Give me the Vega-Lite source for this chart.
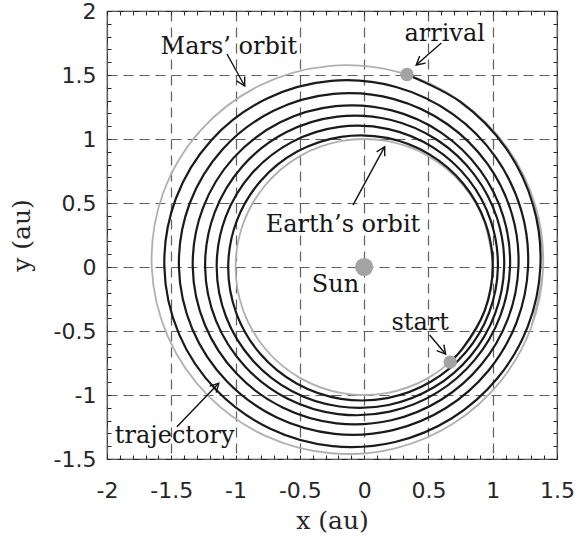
{
  "$schema": "https://vega.github.io/schema/vega-lite/v6.json",
  "width": 450,
  "height": 448,
  "autosize": {"type": "none"},
  "padding": {"left": 107, "top": 11, "right": 20, "bottom": 84},
  "background": "white",
  "config": {"view": {"stroke": "#262626", "strokeWidth": 1.2}},
  "datasets": {
    "traj": [
      {"i": 0, "x": 0.669, "y": -0.743},
      {"i": 1, "x": 0.7629, "y": -0.6402},
      {"i": 2, "x": 0.9374, "y": -0.3412},
      {"i": 3, "x": 1.0002, "y": 0},
      {"i": 4, "x": 0.9434, "y": 0.3434},
      {"i": 5, "x": 0.7732, "y": 0.6488},
      {"i": 6, "x": 0.5081, "y": 0.8801},
      {"i": 7, "x": 0.1778, "y": 1.0087},
      {"i": 8, "x": -0.1793, "y": 1.0172},
      {"i": 9, "x": -0.5207, "y": 0.9018},
      {"i": 10, "x": -0.8033, "y": 0.6741},
      {"i": 11, "x": -0.9907, "y": 0.3606},
      {"i": 12, "x": -1.0574, "y": 0},
      {"i": 13, "x": -0.9939, "y": -0.3617},
      {"i": 14, "x": -0.8084, "y": -0.6783},
      {"i": 15, "x": -0.5255, "y": -0.9101},
      {"i": 16, "x": -0.1815, "y": -1.0296},
      {"i": 17, "x": 0.1806, "y": -1.0242},
      {"i": 18, "x": 0.5179, "y": -0.897},
      {"i": 19, "x": 0.792, "y": -0.6646},
      {"i": 20, "x": 0.9728, "y": -0.354},
      {"i": 21, "x": 1.0402, "y": 0},
      {"i": 22, "x": 0.9858, "y": 0.3588},
      {"i": 23, "x": 0.8131, "y": 0.6823},
      {"i": 24, "x": 0.5385, "y": 0.9326},
      {"i": 25, "x": 0.1899, "y": 1.0774},
      {"i": 26, "x": -0.1929, "y": 1.0944},
      {"i": 27, "x": -0.5634, "y": 0.9758},
      {"i": 28, "x": -0.8723, "y": 0.732},
      {"i": 29, "x": -1.0768, "y": 0.3919},
      {"i": 30, "x": -1.1469, "y": 0},
      {"i": 31, "x": -1.0735, "y": -0.3907},
      {"i": 32, "x": -0.8678, "y": -0.7282},
      {"i": 33, "x": -0.5602, "y": -0.9703},
      {"i": 34, "x": -0.1922, "y": -1.0901},
      {"i": 35, "x": 0.19, "y": -1.078},
      {"i": 36, "x": 0.5427, "y": -0.9399},
      {"i": 37, "x": 0.8278, "y": -0.6947},
      {"i": 38, "x": 1.0164, "y": -0.3699},
      {"i": 39, "x": 1.089, "y": 0},
      {"i": 40, "x": 1.0354, "y": 0.3768},
      {"i": 41, "x": 0.858, "y": 0.7201},
      {"i": 42, "x": 0.5715, "y": 0.9899},
      {"i": 43, "x": 0.2028, "y": 1.1504},
      {"i": 44, "x": -0.2071, "y": 1.175},
      {"i": 45, "x": -0.6074, "y": 1.0522},
      {"i": 46, "x": -0.9428, "y": 0.7911},
      {"i": 47, "x": -1.1637, "y": 0.4235},
      {"i": 48, "x": -1.2368, "y": 0},
      {"i": 49, "x": -1.1526, "y": -0.4195},
      {"i": 50, "x": -0.9265, "y": -0.7774},
      {"i": 51, "x": -0.5943, "y": -1.0294},
      {"i": 52, "x": -0.2025, "y": -1.1492},
      {"i": 53, "x": 0.1992, "y": -1.1301},
      {"i": 54, "x": 0.5666, "y": -0.9813},
      {"i": 55, "x": 0.8619, "y": -0.7233},
      {"i": 56, "x": 1.0575, "y": -0.3849},
      {"i": 57, "x": 1.1346, "y": 0},
      {"i": 58, "x": 1.0827, "y": 0.394},
      {"i": 59, "x": 0.9018, "y": 0.7568},
      {"i": 60, "x": 0.6041, "y": 1.0463},
      {"i": 61, "x": 0.2156, "y": 1.2233},
      {"i": 62, "x": -0.2215, "y": 1.2565},
      {"i": 63, "x": -0.6527, "y": 1.1305},
      {"i": 64, "x": -1.016, "y": 0.8526},
      {"i": 65, "x": -1.2554, "y": 0.4569},
      {"i": 66, "x": -1.3331, "y": 0},
      {"i": 67, "x": -1.2392, "y": -0.451},
      {"i": 68, "x": -0.9925, "y": -0.8329},
      {"i": 69, "x": -0.634, "y": -1.0981},
      {"i": 70, "x": -0.2152, "y": -1.2212},
      {"i": 71, "x": 0.2111, "y": -1.1972},
      {"i": 72, "x": 0.5989, "y": -1.0372},
      {"i": 73, "x": 0.9103, "y": -0.7639},
      {"i": 74, "x": 1.1174, "y": -0.4067},
      {"i": 75, "x": 1.2002, "y": 0},
      {"i": 76, "x": 1.148, "y": 0.4178},
      {"i": 77, "x": 0.9593, "y": 0.805},
      {"i": 78, "x": 0.6451, "y": 1.1173},
      {"i": 79, "x": 0.2313, "y": 1.3118},
      {"i": 80, "x": -0.2384, "y": 1.3524},
      {"i": 81, "x": -0.7046, "y": 1.2203},
      {"i": 82, "x": -1.0988, "y": 0.9221},
      {"i": 83, "x": -1.3581, "y": 0.4942},
      {"i": 84, "x": -1.4405, "y": 0},
      {"i": 85, "x": -1.3358, "y": -0.4862},
      {"i": 86, "x": -1.0664, "y": -0.895},
      {"i": 87, "x": -0.6789, "y": -1.1759},
      {"i": 88, "x": -0.2298, "y": -1.3034},
      {"i": 89, "x": 0.2246, "y": -1.2743},
      {"i": 90, "x": 0.6363, "y": -1.102},
      {"i": 91, "x": 0.9661, "y": -0.8107},
      {"i": 92, "x": 1.1859, "y": -0.4316},
      {"i": 93, "x": 1.2749, "y": 0},
      {"i": 94, "x": 1.2215, "y": 0.4445},
      {"i": 95, "x": 1.0231, "y": 0.8585},
      {"i": 96, "x": 0.6898, "y": 1.1947},
      {"i": 97, "x": 0.248, "y": 1.4066},
      {"i": 98, "x": -0.2563, "y": 1.454},
      {"i": 99, "x": -0.759, "y": 1.3146},
      {"i": 100, "x": -1.1851, "y": 0.9946},
      {"i": 101, "x": -1.465, "y": 0.5332},
      {"i": 102, "x": -1.5539, "y": 0},
      {"i": 103, "x": -1.4398, "y": -0.524},
      {"i": 104, "x": -1.1479, "y": -0.9633},
      {"i": 105, "x": -0.7297, "y": -1.2639},
      {"i": 106, "x": -0.2467, "y": -1.3993},
      {"i": 107, "x": 0.241, "y": -1.3668},
      {"i": 108, "x": 0.6822, "y": -1.1817},
      {"i": 109, "x": 1.0363, "y": -0.8697},
      {"i": 110, "x": 1.2731, "y": -0.4633},
      {"i": 111, "x": 1.3706, "y": 0},
      {"i": 112, "x": 1.3156, "y": 0.4788},
      {"i": 113, "x": 1.1043, "y": 0.9267},
      {"i": 114, "x": 0.7457, "y": 1.2916},
      {"i": 115, "x": 0.333, "y": 1.504}
    ],
    "mars": [
      {"i": 0, "x": 1.2989, "y": -0.4727},
      {"i": 1, "x": 1.3922, "y": 0},
      {"i": 2, "x": 1.3305, "y": 0.4842},
      {"i": 3, "x": 1.1119, "y": 0.9331},
      {"i": 4, "x": 0.7482, "y": 1.2959},
      {"i": 5, "x": 0.2684, "y": 1.5224},
      {"i": 6, "x": -0.2768, "y": 1.57},
      {"i": 7, "x": -0.8173, "y": 1.4155},
      {"i": 8, "x": -1.2716, "y": 1.0671},
      {"i": 9, "x": -1.5658, "y": 0.5699},
      {"i": 10, "x": -1.6519, "y": 0},
      {"i": 11, "x": -1.5222, "y": -0.554},
      {"i": 12, "x": -1.2069, "y": -1.0127},
      {"i": 13, "x": -0.7629, "y": -1.3214},
      {"i": 14, "x": -0.2565, "y": -1.4552},
      {"i": 15, "x": 0.2493, "y": -1.4142},
      {"i": 16, "x": 0.7024, "y": -1.2166},
      {"i": 17, "x": 1.0621, "y": -0.8912},
      {"i": 18, "x": 1.2989, "y": -0.4727},
      {"i": 19, "x": 1.3922, "y": 0},
      {"i": 20, "x": 1.3305, "y": 0.4842}
    ],
    "earth": [
      {"i": 0, "x": 0.9397, "y": -0.342},
      {"i": 1, "x": 1, "y": 0},
      {"i": 2, "x": 0.9397, "y": 0.342},
      {"i": 3, "x": 0.766, "y": 0.6428},
      {"i": 4, "x": 0.5, "y": 0.866},
      {"i": 5, "x": 0.1736, "y": 0.9848},
      {"i": 6, "x": -0.1736, "y": 0.9848},
      {"i": 7, "x": -0.5, "y": 0.866},
      {"i": 8, "x": -0.766, "y": 0.6428},
      {"i": 9, "x": -0.9397, "y": 0.342},
      {"i": 10, "x": -1, "y": 0},
      {"i": 11, "x": -0.9397, "y": -0.342},
      {"i": 12, "x": -0.766, "y": -0.6428},
      {"i": 13, "x": -0.5, "y": -0.866},
      {"i": 14, "x": -0.1736, "y": -0.9848},
      {"i": 15, "x": 0.1736, "y": -0.9848},
      {"i": 16, "x": 0.5, "y": -0.866},
      {"i": 17, "x": 0.766, "y": -0.6428},
      {"i": 18, "x": 0.9397, "y": -0.342},
      {"i": 19, "x": 1, "y": 0},
      {"i": 20, "x": 0.9397, "y": 0.342}
    ],
    "bodies": [
      {"name": "Sun", "kind": "sun", "x": 0, "y": 0},
      {"name": "start", "kind": "craft", "x": 0.669, "y": -0.743},
      {"name": "arrival", "kind": "craft", "x": 0.333, "y": 1.504}
    ],
    "notes": [
      {"label": "Mars’ orbit", "x": -1.052, "y": 1.664},
      {"label": "arrival", "x": 0.626, "y": 1.766},
      {"label": "Earth’s orbit", "x": -0.165, "y": 0.276},
      {"label": "Sun", "x": -0.223, "y": -0.193},
      {"label": "start", "x": 0.436, "y": -0.492},
      {"label": "trajectory", "x": -1.474, "y": -1.375}
    ],
    "arrows": [
      {"to": "Mars’ orbit", "x": -1.067, "y": 1.664, "x2": -0.929, "y2": 1.414, "heading": 151},
      {"to": "arrival", "x": 0.6, "y": 1.75, "x2": 0.405, "y2": 1.578, "heading": 230},
      {"to": "Earth’s orbit", "x": -0.087, "y": 0.484, "x2": 0.16, "y2": 0.94, "heading": 28.5},
      {"to": "start", "x": 0.509, "y": -0.531, "x2": 0.634, "y2": -0.68, "heading": 140},
      {"to": "trajectory", "x": -1.456, "y": -1.248, "x2": -1.131, "y2": -0.909, "heading": 44}
    ]
  },
  "layer": [
    {
      "data": {"name": "mars"},
      "mark": {"type": "line", "interpolate": "catmull-rom", "stroke": "#b0b0b0", "strokeWidth": 1.8},
      "encoding": {
        "x": {"field": "x", "type": "quantitative", "scale": {"domain": [-2, 1.5], "nice": false, "zero": false},
          "axis": {"orient": "bottom", "values": [-2, -1.5, -1, -0.5, 0, 0.5, 1, 1.5], "labelExpr": "toString(datum.value)",
            "grid": true, "gridDash": [10, 6], "gridColor": "#5e5e5e", "gridWidth": 1.2, "gridOpacity": 1,
            "ticks": false, "tickSize": 0, "domain": false, "labelFont": "DejaVu Sans", "labelFontSize": 22, "labelColor": "#262626",
            "labelPadding": 21, "labelFlush": false, "labelOverlap": false,
            "title": "x (au)", "titleFont": "DejaVu Serif", "titleFontSize": 25, "titleFontWeight": "normal", "titleColor": "#262626", "titlePadding": 7}},
        "y": {"field": "y", "type": "quantitative", "scale": {"domain": [-1.5, 2], "nice": false, "zero": false},
          "axis": {"orient": "left", "values": [-1.5, -1, -0.5, 0, 0.5, 1, 1.5, 2], "labelExpr": "toString(datum.value)",
            "grid": true, "gridDash": [10, 6], "gridColor": "#5e5e5e", "gridWidth": 1.2, "gridOpacity": 1,
            "ticks": false, "tickSize": 0, "domain": false, "labelFont": "DejaVu Sans", "labelFontSize": 22, "labelColor": "#262626",
            "labelPadding": 11, "labelFlush": false, "labelOverlap": false,
            "title": "y (au)", "titleFont": "DejaVu Serif", "titleFontSize": 25, "titleFontWeight": "normal", "titleColor": "#262626", "titlePadding": 19}},
        "order": {"field": "i", "type": "quantitative"}
      }
    },
    {
      "data": {"name": "earth"},
      "mark": {"type": "line", "interpolate": "catmull-rom", "stroke": "#b0b0b0", "strokeWidth": 1.8},
      "encoding": {
        "x": {"field": "x", "type": "quantitative",
          "axis": {"orient": "bottom", "values": [-2, -1.9, -1.8, -1.7, -1.6, -1.5, -1.4, -1.3, -1.2, -1.1, -1, -0.9, -0.8, -0.7, -0.6, -0.5, -0.4, -0.3, -0.2, -0.1, 0, 0.1, 0.2, 0.3, 0.4, 0.5, 0.6, 0.7, 0.8, 0.9, 1, 1.1, 1.2, 1.3, 1.4, 1.5],
            "labels": false, "grid": false, "domain": false, "ticks": true, "tickSize": -4, "tickColor": "#262626", "tickWidth": 1, "title": null}},
        "y": {"field": "y", "type": "quantitative",
          "axis": {"orient": "left", "values": [-1.5, -1.4, -1.3, -1.2, -1.1, -1, -0.9, -0.8, -0.7, -0.6, -0.5, -0.4, -0.3, -0.2, -0.1, 0, 0.1, 0.2, 0.3, 0.4, 0.5, 0.6, 0.7, 0.8, 0.9, 1, 1.1, 1.2, 1.3, 1.4, 1.5, 1.6, 1.7, 1.8, 1.9, 2],
            "labels": false, "grid": false, "domain": false, "ticks": true, "tickSize": -4, "tickColor": "#262626", "tickWidth": 1, "title": null}},
        "order": {"field": "i", "type": "quantitative"}
      }
    },
    {
      "data": {"name": "traj"},
      "mark": {"type": "line", "interpolate": "catmull-rom", "stroke": "#1a1a1a", "strokeWidth": 2.2},
      "encoding": {
        "x": {"field": "x", "type": "quantitative",
          "axis": {"orient": "top", "values": [-2, -1.9, -1.8, -1.7, -1.6, -1.5, -1.4, -1.3, -1.2, -1.1, -1, -0.9, -0.8, -0.7, -0.6, -0.5, -0.4, -0.3, -0.2, -0.1, 0, 0.1, 0.2, 0.3, 0.4, 0.5, 0.6, 0.7, 0.8, 0.9, 1, 1.1, 1.2, 1.3, 1.4, 1.5],
            "labels": false, "grid": false, "domain": false, "ticks": true, "tickSize": -4, "tickColor": "#262626", "tickWidth": 1, "title": null}},
        "y": {"field": "y", "type": "quantitative",
          "axis": {"orient": "right", "values": [-1.5, -1.4, -1.3, -1.2, -1.1, -1, -0.9, -0.8, -0.7, -0.6, -0.5, -0.4, -0.3, -0.2, -0.1, 0, 0.1, 0.2, 0.3, 0.4, 0.5, 0.6, 0.7, 0.8, 0.9, 1, 1.1, 1.2, 1.3, 1.4, 1.5, 1.6, 1.7, 1.8, 1.9, 2],
            "labels": false, "grid": false, "domain": false, "ticks": true, "tickSize": -4, "tickColor": "#262626", "tickWidth": 1, "title": null}},
        "order": {"field": "i", "type": "quantitative"}
      }
    },
    {
      "data": {"name": "bodies"},
      "mark": {"type": "point", "filled": true, "color": "#a3a3a3", "opacity": 1, "strokeWidth": 0},
      "encoding": {
        "x": {"field": "x", "type": "quantitative", "axis": null},
        "y": {"field": "y", "type": "quantitative", "axis": null},
        "size": {"field": "kind", "type": "nominal", "scale": {"domain": ["sun", "craft"], "range": [330, 180]}, "legend": null}
      }
    },
    {
      "data": {"name": "arrows"},
      "mark": {"type": "rule", "color": "#111111", "strokeWidth": 1.4},
      "encoding": {
        "x": {"field": "x", "type": "quantitative", "axis": null},
        "y": {"field": "y", "type": "quantitative", "axis": null},
        "x2": {"field": "x2"},
        "y2": {"field": "y2"}
      }
    },
    {
      "data": {"name": "arrows"},
      "mark": {"type": "point", "shape": "M-0.55,1L0,0L0.55,1", "filled": false, "stroke": "#111111", "strokeWidth": 1.4, "opacity": 1, "size": 280},
      "encoding": {
        "x": {"field": "x2", "type": "quantitative", "axis": null},
        "y": {"field": "y2", "type": "quantitative", "axis": null},
        "angle": {"field": "heading", "type": "quantitative", "scale": {"domain": [0, 360], "range": [0, 360]}}
      }
    },
    {
      "data": {"name": "notes"},
      "mark": {"type": "text", "font": "DejaVu Serif", "fontSize": 24, "color": "#161616", "align": "center", "baseline": "alphabetic"},
      "encoding": {
        "x": {"field": "x", "type": "quantitative", "axis": null},
        "y": {"field": "y", "type": "quantitative", "axis": null},
        "text": {"field": "label", "type": "nominal"}
      }
    }
  ],
  "resolve": {"axis": {"x": "independent", "y": "independent"}}
}
